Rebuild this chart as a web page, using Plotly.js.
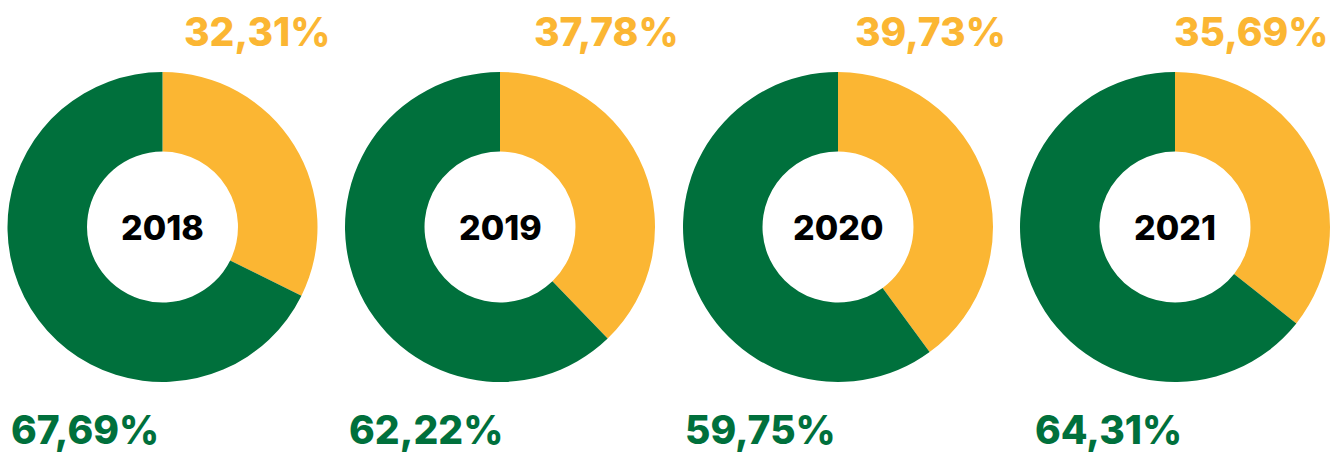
<!DOCTYPE html>
<html>
<head>
<meta charset="utf-8">
<script src="https://cdn.plot.ly/plotly-3.0.1.min.js"></script>
<style>html,body{margin:0;padding:0;background:#fff;}#chart{width:1342px;height:455px;}</style>
</head>
<body>
<div id="chart"></div>
<script>
const years = ['2018', '2019', '2020', '2021'];
const yellowValues = [32.31, 37.78, 39.73, 35.69];
const greenValues = [67.69, 62.22, 59.75, 64.31];
const yellowLabels = ['32,31%', '37,78%', '39,73%', '35,69%'];
const greenLabels = ['67,69%', '62,22%', '59,75%', '64,31%'];

const W = 1342, H = 455;
const centersX = [162.5, 500, 838, 1175];
const centerY = 227;
const R = 155;
const yellowLabelX = [257, 606, 930, 1251];
const greenLabelX = [85, 426, 760, 1108];
const YELLOW = '#FBB633', GREEN = '#00703C';

const data = years.map((y, i) => ({
  type: 'pie',
  values: [yellowValues[i], greenValues[i]],
  labels: ['A', 'B'],
  marker: {colors: [YELLOW, GREEN], line: {width: 0}},
  hole: 0.487,
  sort: false,
  direction: 'clockwise',
  rotation: 0,
  textinfo: 'none',
  hoverinfo: 'none',
  showlegend: false,
  domain: {
    x: [(centersX[i] - R) / W, (centersX[i] + R) / W],
    y: [(H - centerY - R) / H, (H - centerY + R) / H]
  }
}));

const font = 'Inter, Liberation Sans, Arial, sans-serif';
const annotations = [];
years.forEach((y, i) => {
  annotations.push({text: y, x: centersX[i] / W, y: 1 - centerY / H, xref: 'paper', yref: 'paper',
    showarrow: false, xanchor: 'center', yanchor: 'middle', font: {family: font, size: 34, weight: 800, color: '#000'}});
  annotations.push({text: yellowLabels[i], x: yellowLabelX[i] / W, y: 1 - 32 / H, xref: 'paper', yref: 'paper',
    showarrow: false, xanchor: 'center', yanchor: 'middle', font: {family: font, size: 39, weight: 800, color: YELLOW}});
  annotations.push({text: greenLabels[i], x: greenLabelX[i] / W, y: 0, xref: 'paper', yref: 'paper',
    showarrow: false, xanchor: 'center', yanchor: 'bottom', font: {family: font, size: 39, weight: 800, color: GREEN}});
});

Plotly.newPlot('chart', data, {
  width: W, height: H,
  margin: {l: 0, r: 0, t: 0, b: 0},
  paper_bgcolor: '#fff',
  plot_bgcolor: '#fff',
  annotations: annotations
}, {displayModeBar: false, staticPlot: true});
</script>
</body>
</html>
